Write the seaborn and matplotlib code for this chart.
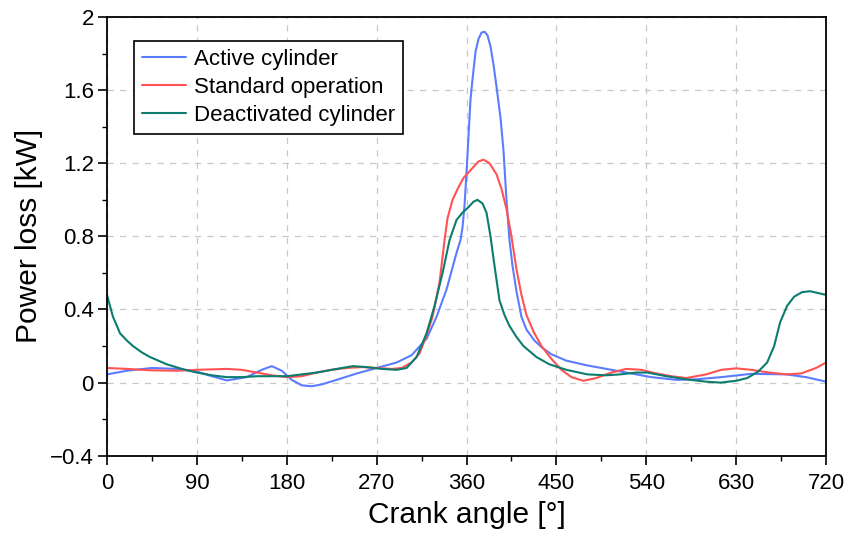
import numpy as np
import pandas as pd
import matplotlib
matplotlib.use("Agg")
import matplotlib.pyplot as plt
import seaborn as sns
from matplotlib.ticker import MultipleLocator, FuncFormatter

# ---- data ----
active_angle = [0, 20, 45, 70, 90, 105, 120, 140, 155, 165, 175, 185, 195, 205, 215, 230, 250, 270,
                290, 305, 320, 330, 340, 350, 354, 356, 358, 360, 362, 364, 366, 369, 372, 375, 378,
                381, 384, 387, 390, 394, 397, 400, 403, 406, 410, 415, 420, 428, 436, 445, 460, 480,
                500, 520, 545, 570, 590, 615, 645, 680, 700, 720]
active_power = [0.045, 0.065, 0.08, 0.075, 0.06, 0.035, 0.012, 0.03, 0.07, 0.09, 0.065, 0.015, -0.015,
                -0.02, -0.01, 0.015, 0.05, 0.08, 0.11, 0.15, 0.24, 0.36, 0.51, 0.71, 0.78, 0.85, 0.97,
                1.15, 1.35, 1.55, 1.66, 1.81, 1.88, 1.915, 1.92, 1.9, 1.84, 1.74, 1.62, 1.45, 1.27,
                1.0, 0.78, 0.64, 0.5, 0.36, 0.29, 0.23, 0.19, 0.155, 0.12, 0.095, 0.075, 0.055, 0.03,
                0.015, 0.018, 0.03, 0.048, 0.045, 0.03, 0.005]

standard_angle = [0, 20, 45, 70, 90, 120, 135, 150, 165, 180, 195, 210, 225, 240, 255, 270, 285, 295,
                  305, 313, 320, 326, 333, 338, 341, 346, 352, 357, 362, 367, 372, 377, 383, 390, 395,
                  400, 405, 410, 415, 420, 427, 435, 445, 455, 465, 477, 490, 505, 520, 535, 550, 565,
                  580, 600, 615, 630, 645, 663, 680, 695, 710, 720]
standard_power = [0.08, 0.075, 0.067, 0.065, 0.07, 0.075, 0.07, 0.055, 0.04, 0.03, 0.035, 0.055, 0.07,
                  0.08, 0.085, 0.08, 0.075, 0.08, 0.11, 0.16, 0.26, 0.36, 0.55, 0.78, 0.9, 1.0, 1.07,
                  1.12, 1.15, 1.18, 1.21, 1.22, 1.2, 1.14, 1.06, 0.95, 0.8, 0.62, 0.48, 0.37, 0.28, 0.2,
                  0.13, 0.07, 0.03, 0.01, 0.025, 0.055, 0.075, 0.07, 0.05, 0.035, 0.025, 0.045, 0.07,
                  0.078, 0.07, 0.055, 0.045, 0.05, 0.08, 0.11]

deact_angle = [0, 3, 6, 10, 13, 20, 26, 35, 43, 60, 75, 90, 105, 120, 135, 150, 165, 180, 195, 210,
               230, 246, 260, 275, 290, 300, 310, 320, 328, 336, 343, 350, 356, 362, 367, 371, 376,
               380, 384, 388, 393, 398, 403, 410, 417, 430, 443, 460, 481, 500, 514, 530, 541, 560,
               581, 600, 614, 630, 641, 652, 661, 668, 674, 681, 688, 696, 704, 712, 720]
deact_power = [0.48, 0.42, 0.36, 0.31, 0.27, 0.23, 0.2, 0.165, 0.14, 0.1, 0.075, 0.055, 0.04, 0.03, 0.03,
               0.035, 0.035, 0.035, 0.045, 0.055, 0.075, 0.09, 0.085, 0.075, 0.07, 0.08, 0.14, 0.27,
               0.42, 0.6, 0.78, 0.89, 0.93, 0.96, 0.99, 1.0, 0.98, 0.93, 0.8, 0.64, 0.45, 0.37, 0.31,
               0.25, 0.2, 0.14, 0.1, 0.07, 0.045, 0.04, 0.045, 0.055, 0.055, 0.035, 0.017, 0.005, 0.0,
               0.01, 0.025, 0.06, 0.11, 0.2, 0.33, 0.42, 0.47, 0.495, 0.5, 0.49, 0.48]

series_names = ["Active cylinder", "Standard operation", "Deactivated cylinder"]
series_colors = ["#5b7cff", "#ff5252", "#0b7d6e"]

x_ticks = [0, 90, 180, 270, 360, 450, 540, 630, 720]
y_ticks = [-0.4, 0, 0.4, 0.8, 1.2, 1.6, 2]

df = pd.concat([
    pd.DataFrame({"angle": active_angle, "power": active_power, "series": series_names[0]}),
    pd.DataFrame({"angle": standard_angle, "power": standard_power, "series": series_names[1]}),
    pd.DataFrame({"angle": deact_angle, "power": deact_power, "series": series_names[2]}),
], ignore_index=True)

sns.set_style("white")
plt.rcParams["font.family"] = ["Liberation Sans", "DejaVu Sans"]
plt.rcParams["text.color"] = "black"
plt.rcParams["axes.labelcolor"] = "black"
plt.rcParams["xtick.color"] = "black"
plt.rcParams["ytick.color"] = "black"

fig = plt.figure(figsize=(8.49, 5.33), dpi=100)
ax = fig.add_axes([0.126, 0.145, 0.847, 0.823])

sns.lineplot(data=df, x="angle", y="power", hue="series", hue_order=series_names,
             palette=dict(zip(series_names, series_colors)), estimator=None, sort=False,
             linewidth=1.5, ax=ax)

ax.set_xlim(0, 720)
ax.set_ylim(-0.4, 2)
ax.set_xticks(x_ticks)
ax.set_yticks(y_ticks)
ax.xaxis.set_minor_locator(MultipleLocator(45))
ax.yaxis.set_minor_locator(MultipleLocator(0.2))
ax.yaxis.set_major_formatter(FuncFormatter(lambda v, p: f"{v:g}".replace("-", "\u2212")))

ax.grid(True, which="major", color="#c8c8c8", linestyle=(0, (5, 5)), linewidth=0.9)
ax.set_axisbelow(True)

ax.tick_params(axis="both", which="major", direction="out", length=6.5, width=1.2,
               labelsize=16, colors="black", bottom=True, left=True, top=False, right=False)
ax.tick_params(axis="x", which="major", pad=6)
ax.tick_params(axis="y", which="major", pad=3)
ax.tick_params(axis="both", which="minor", direction="out", length=3.5, width=1.0,
               bottom=True, left=True, top=False, right=False)

for s in ax.spines.values():
    s.set_visible(True)
    s.set_color("black")
    s.set_linewidth(1.3)

ax.set_xlabel("Crank angle [°]", fontsize=21.5, labelpad=5)
ax.set_ylabel("Power loss [kW]", fontsize=21.5, labelpad=5)

leg = ax.legend(loc="upper left", bbox_to_anchor=(0.0376, 0.945), borderaxespad=0,
                fontsize=16, frameon=True, fancybox=False, edgecolor="black", framealpha=1,
                handlelength=2.0, handletextpad=0.35, borderpad=0.35, labelspacing=0.32)
leg.get_frame().set_linewidth(1.2)

fig.savefig("out.png", dpi=100)
